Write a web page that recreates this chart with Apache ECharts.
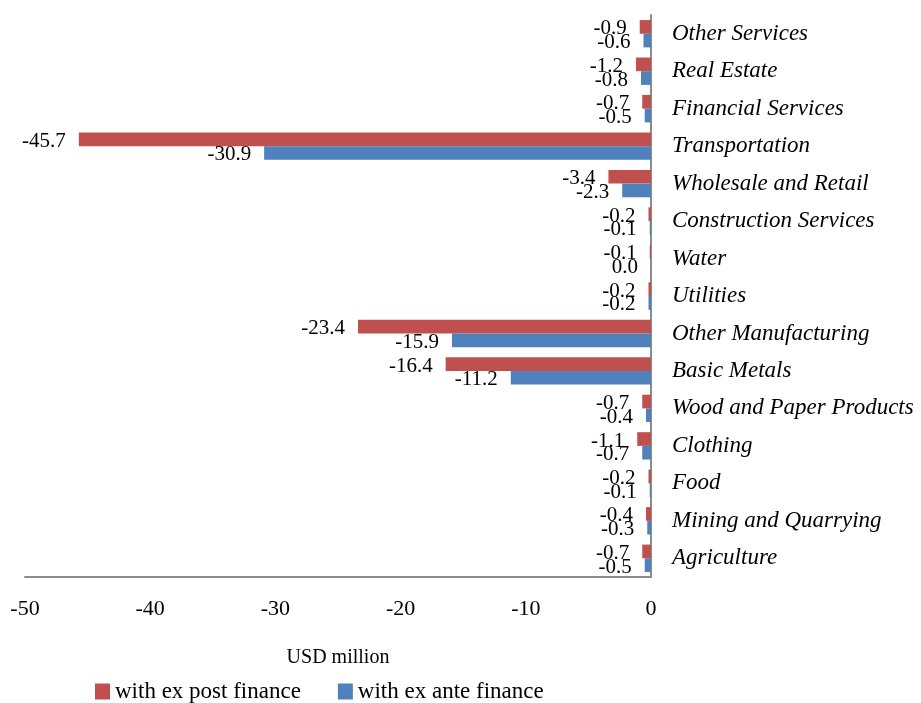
<!DOCTYPE html>
<html><head><meta charset="utf-8">
<script src="https://cdn.jsdelivr.net/npm/echarts@6/dist/echarts.min.js"></script>
<style>html,body{margin:0;padding:0;background:#fff}#c{width:921px;height:703px}</style>
</head><body><div id="c"></div>
<script>
const categories = ["Agriculture","Mining and Quarrying","Food","Clothing","Wood and Paper Products","Basic Metals","Other Manufacturing","Utilities","Water","Construction Services","Wholesale and Retail","Transportation","Financial Services","Real Estate","Other Services"];
const exPost = [-0.7,-0.4,-0.2,-1.1,-0.7,-16.4,-23.4,-0.2,-0.1,-0.2,-3.4,-45.7,-0.7,-1.2,-0.9];
const exAnte = [-0.5,-0.3,-0.1,-0.7,-0.4,-11.2,-15.9,-0.2,0.0,-0.1,-2.3,-30.9,-0.5,-0.8,-0.6];
const xTicks = {min:-50, max:0, interval:10};
const font = "Liberation Serif";
const chart = echarts.init(document.getElementById('c'));
const lbl = {show:true, position:'left', distance:13, offset:[0,2], color:'#000', fontFamily:font, fontSize:21,
  formatter: p => p.value.toFixed(1)};
chart.setOption({
  animation:false,
  textStyle:{fontFamily:font},
  legend:{top:675, left:90, itemWidth:15, itemHeight:16, itemGap:37, icon:'rect',
    textStyle:{fontFamily:font, fontSize:23, color:'#000'},
    data:['with ex post finance','with ex ante finance']},
  grid:{left:25, right:270, top:15, bottom:126, containLabel:false},
  xAxis:{type:'value', min:xTicks.min, max:xTicks.max, interval:xTicks.interval,
    name:'USD million', nameLocation:'middle', nameGap:71,
    nameTextStyle:{fontFamily:font, fontSize:20, color:'#000'},
    axisLine:{show:true, onZero:false, lineStyle:{color:'#8c8c8c', width:2}},
    axisTick:{show:false}, splitLine:{show:false},
    axisLabel:{margin:21, fontFamily:font, fontSize:22, color:'#000'}},
  yAxis:{type:'category', data:categories, position:'right',
    axisLine:{show:true, lineStyle:{color:'#8c8c8c', width:2}},
    axisTick:{show:false},
    axisLabel:{margin:21, fontFamily:font, fontSize:23, fontStyle:'italic', color:'#000', align:'left'}},
  series:[
    {name:'with ex post finance', type:'bar', data:exPost, itemStyle:{color:'#C0504D'},
     barGap:'0%', barCategoryGap:'27%', label:lbl},
    {name:'with ex ante finance', type:'bar', data:exAnte, itemStyle:{color:'#4F81BD'},
     barGap:'0%', barCategoryGap:'27%', label:lbl}
  ]
});
</script></body></html>
